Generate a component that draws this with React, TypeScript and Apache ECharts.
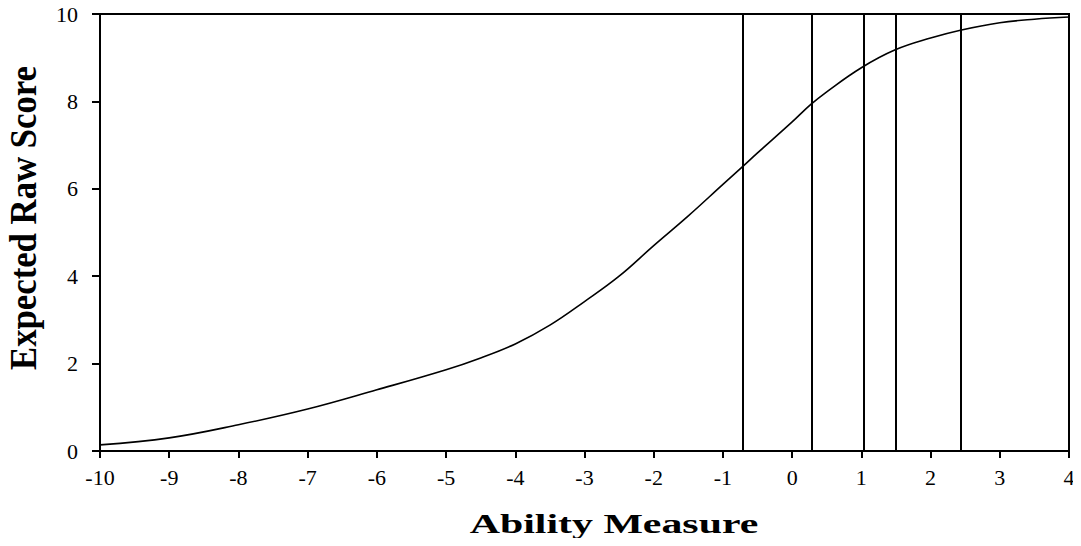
import React, { useEffect, useRef } from "react";
import * as echarts from "echarts";

const abilityX = [-10, -9, -8, -7, -6, -5, -4.5, -4, -3.5, -3, -2.5, -2, -1.5, -1, -0.72, -0.5, 0, 0.27, 0.5, 1, 1.49, 2, 2.43, 3, 3.5, 4];
const expectedScore = [0.14, 0.3, 0.6, 0.96, 1.4, 1.86, 2.13, 2.45, 2.88, 3.42, 4.0, 4.7, 5.38, 6.1, 6.5, 6.82, 7.53, 7.93, 8.22, 8.77, 9.18, 9.45, 9.63, 9.8, 9.88, 9.93];
const thresholds = [-0.72, 0.28, 1.03, 1.49, 2.43];
const xTitle = "Ability Measure";
const yTitle = "Expected Raw Score";

export default function App() {
  const ref = useRef<HTMLDivElement>(null);
  useEffect(() => {
    if (!ref.current) return;
    const chart = echarts.init(ref.current, null, { renderer: "svg" });
    const font = "'Liberation Serif', 'Times New Roman', serif";
    chart.setOption({
      animation: false,
      backgroundColor: "#ffffff",
      grid: {
        left: 100,
        right: 12,
        top: 14,
        bottom: 95,
        show: true,
        borderColor: "#000",
        borderWidth: 2,
        backgroundColor: "transparent",
      },
      xAxis: {
        type: "value",
        min: -10,
        max: 4,
        interval: 1,
        axisLine: { show: true, onZero: false, lineStyle: { color: "#000", width: 2 } },
        axisTick: { show: true, inside: false, length: 7, lineStyle: { color: "#000", width: 2 } },
        axisLabel: { color: "#000", fontFamily: font, fontSize: 22, margin: 15 },
        splitLine: { show: false },
      },
      yAxis: {
        type: "value",
        min: 0,
        max: 10,
        interval: 2,
        axisLine: { show: true, onZero: false, lineStyle: { color: "#000", width: 2 } },
        axisTick: { show: true, inside: false, length: 8, lineStyle: { color: "#000", width: 2 } },
        axisLabel: { color: "#000", fontFamily: font, fontSize: 22, margin: 22 },
        splitLine: { show: false },
      },
      graphic: [
        {
          type: "text",
          x: 614,
          y: 524,
          scaleX: 1.55,
          style: {
            text: xTitle,
            fontFamily: font,
            fontWeight: "bold",
            fontSize: 27,
            fill: "#000",
            textAlign: "center",
            textVerticalAlign: "middle",
          },
        },
        {
          type: "text",
          x: 24,
          y: 218,
          rotation: Math.PI / 2,
          scaleX: 1.12,
          scaleY: 1.2,
          style: {
            text: yTitle,
            fontFamily: font,
            fontWeight: "bold",
            fontSize: 31,
            fill: "#000",
            textAlign: "center",
            textVerticalAlign: "middle",
          },
        },
      ],
      series: [
        {
          type: "line",
          data: abilityX.map((x, i) => [x, expectedScore[i]]),
          smooth: 0.4,
          showSymbol: false,
          symbol: "none",
          lineStyle: { color: "#000", width: 1.6 },
          markLine: {
            silent: true,
            symbol: ["none", "none"],
            label: { show: false },
            lineStyle: { color: "#000", width: 2, type: "solid" },
            data: thresholds.map((t) => ({ xAxis: t })),
          },
        },
      ],
    });
    return () => chart.dispose();
  }, []);
  return <div ref={ref} style={{ width: 1081, height: 546, margin: -8 }} />;
}
